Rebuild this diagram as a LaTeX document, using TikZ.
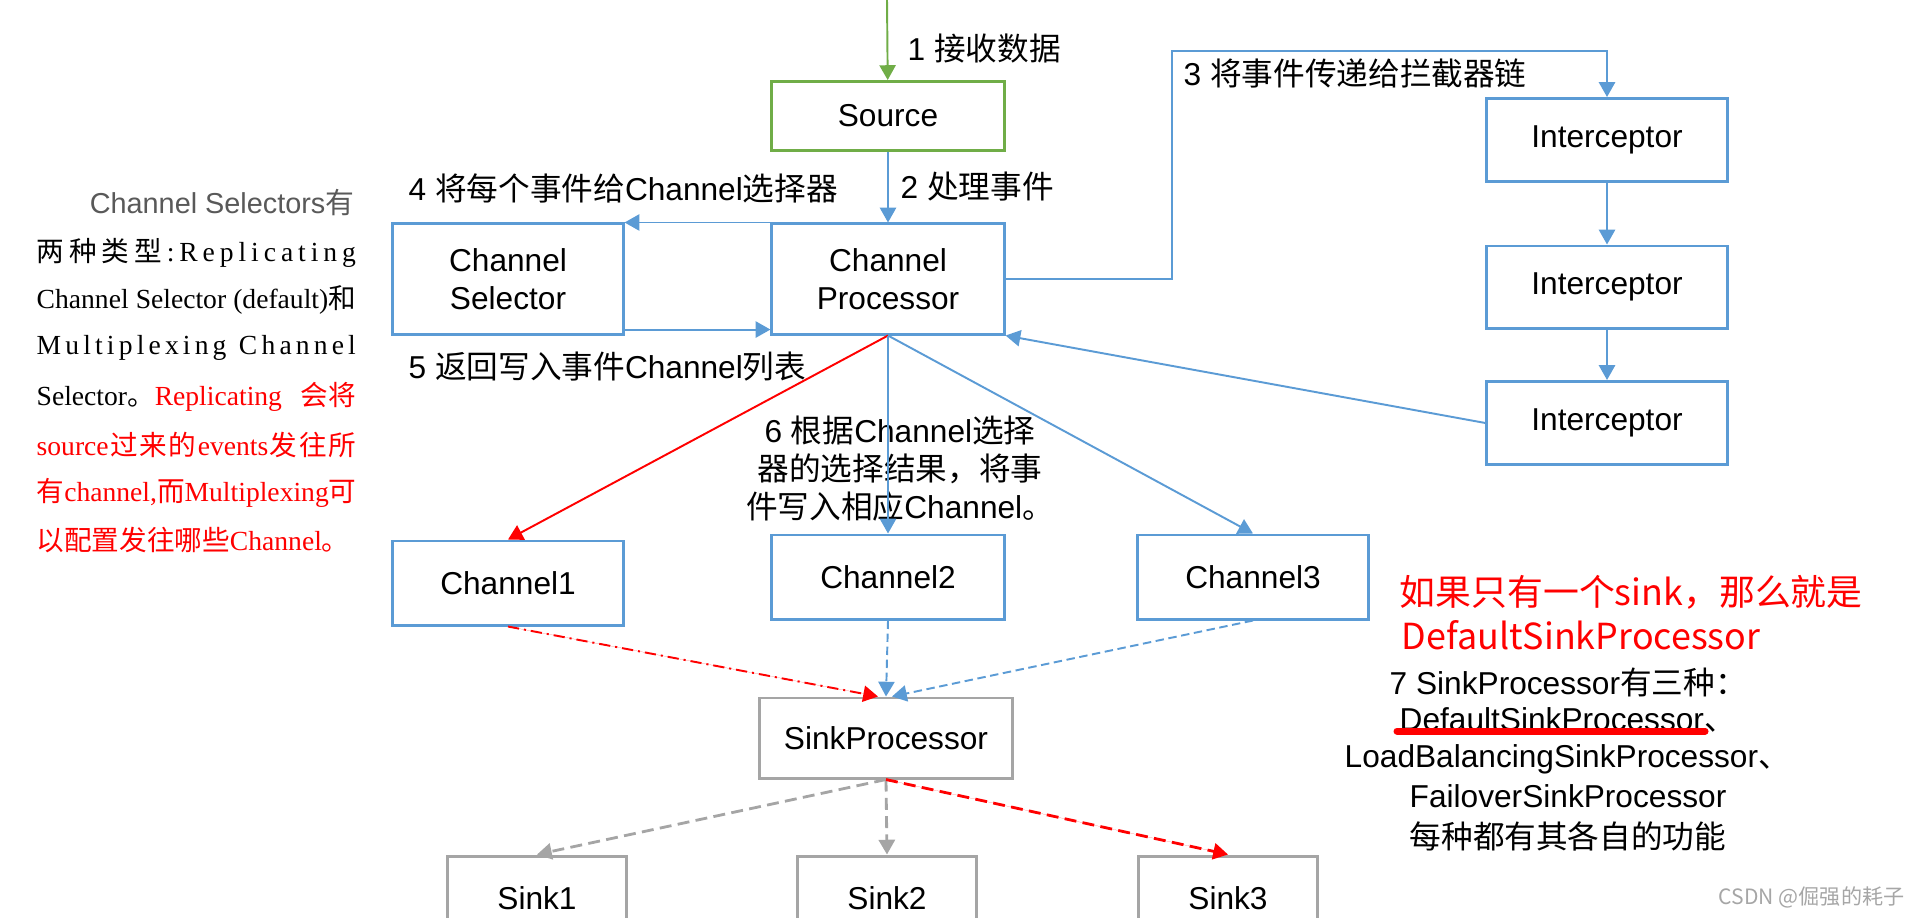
\documentclass[tikz,border=0pt]{standalone}
\usepackage{fontspec}
\setmainfont{Liberation Sans}
\newfontfamily\zh{Noto Sans CJK SC}
\newfontfamily\tms{Liberation Serif}
\usetikzlibrary{arrows.meta,calc}

\definecolor{boxblue}{RGB}{91,155,213}
\definecolor{boxgreen}{RGB}{112,173,71}
\definecolor{boxgray}{RGB}{165,165,165}
\definecolor{txtgray}{RGB}{89,89,89}

\newcommand\labfont{\fontsize{9}{10.8}\selectfont}
\newcommand\parfont{\fontsize{7.85}{9}\selectfont\tms}
\newlength\pw \setlength\pw{3.19cm}
% spread the letters of a word over a justified line
\newcommand\spreadchars[1]{\spreadB#1\relax}
\def\spreadB#1{#1\spreadA}
\def\spreadA#1{\ifx#1\relax\else\hfil#1\expandafter\spreadA\fi}

\tikzset{
	bluebox/.style={draw=boxblue, line width=0.85pt, minimum width=2.32cm, minimum height=0.84cm, align=center, font=\labfont},
	greenbox/.style={bluebox, draw=boxgreen},
	graybox/.style={bluebox, draw=boxgray},
	txt/.style={inner sep=0pt, anchor=west, font=\labfont},
	partxt/.style={inner sep=0pt, anchor=west, font=\parfont},
	flow/.style={-{Triangle[length=4.2pt,width=4.6pt]}, line width=0.55pt},
	blueline/.style={flow, draw=boxblue},
	greenline/.style={flow, draw=boxgreen},
	redline/.style={flow, draw=red, fill=red},
	bluedash/.style={blueline, dash pattern=on 2.4pt off 1.3pt},
	graydash/.style={flow, draw=boxgray, line width=0.8pt, dash pattern=on 3.4pt off 1.8pt},
	reddash/.style={redline, line width=0.8pt, dash pattern=on 3.4pt off 1.8pt},
	reddashdot/.style={redline, dash pattern=on 3.2pt off 1.4pt on 0.6pt off 1.4pt}
}

\begin{document}
\begin{tikzpicture}[x=0.01cm, y=-0.01cm]
	\useasboundingbox (0,0) rectangle (1919,917);
	
	%%%%% boxes %%%%%
	\node[greenbox, minimum height=0.69cm] (src) at (888,116) {Source};
	\node[bluebox, minimum width=2.30cm, minimum height=1.10cm] (sel) at (508,279) {Channel\\Selector};
	\node[bluebox, minimum height=1.10cm] (proc) at (888,279) {Channel\\Processor};
	
	\node[bluebox, minimum width=2.40cm, minimum height=0.83cm] (int1) at (1607,140) {Interceptor};
	\node[bluebox, minimum width=2.40cm, minimum height=0.82cm] (int2) at (1607,287) {Interceptor};
	\node[bluebox, minimum width=2.40cm, minimum height=0.83cm] (int3) at (1607,423) {Interceptor};
	
	\node[bluebox, minimum width=2.30cm] (ch1) at (508,583) {Channel1};
	\node[bluebox] (ch2) at (888,577) {Channel2};
	\node[bluebox, minimum width=2.30cm] (ch3) at (1253,577) {Channel3};
	
	\node[graybox, minimum width=2.52cm, minimum height=0.80cm] (sp) at (886,738) {SinkProcessor};
	\node[graybox, minimum width=1.79cm] (sink1) at (537,898) {Sink1};
	\node[graybox, minimum width=1.79cm] (sink2) at (887,898) {Sink2};
	\node[graybox, minimum width=1.79cm] (sink3) at (1228,898) {Sink3};
	
	%%%%% labels %%%%%
	\node[txt] (lab1) at (907,48) {1 {\zh 接收数据}};
	\node[txt] (lab2) at (900,187) {2 {\zh 处理事件}};
	\node[txt] (lab3) at (1183,73) {3 {\zh 将事件传递给拦截器链}};
	\node[txt] (lab4) at (408,188) {4 {\zh 将每个事件给}Channel{\zh 选择器}};
	\node[txt] (lab5) at (408,367) {5 {\zh 返回写入事件}Channel{\zh 列表}};
	\node[txt, anchor=center, align=center] (lab6) at (900,469)
		{6 {\zh 根据}Channel{\zh 选择}\\{\zh 器的选择结果，将事}\\{\zh 件写入相应}Channel{\zh 。}};
	
	%%%%% connectors %%%%%
	\coordinate (srcin) at (887,0);
	\coordinate (bend) at (1172,51);
	\draw[greenline] (srcin) -- (src);
	\draw[blueline] (src) -- (proc);
	\draw[blueline] (proc.north west) -- (sel.north east);
	\draw[blueline] ($(sel.south east)+(0,-6)$) -- ($(proc.south west)+(0,-6)$);
	\draw[blueline] (proc.east) -| (bend) -| (int1.north);
	\draw[blueline] (int1) -- (int2);
	\draw[blueline] (int2) -- (int3);
	\draw[blueline] (int3.west) -- (proc.south east);
	
	\draw[redline] (proc.south) -- (ch1.north);
	\draw[blueline] (proc.south) -- (ch2.north);
	\draw[blueline] (proc.south) -- (ch3.north);
	
	\draw[reddashdot] (ch1.south) -- ($(sp.north)+(-8,0)$);
	\draw[bluedash] (ch2.south) -- (sp.north);
	\draw[bluedash] (ch3.south) -- ($(sp.north)+(6,0)$);
	
	\draw[graydash] (sp.south) -- (sink1.north);
	\draw[graydash] (sp.south) -- (sink2.north);
	\draw[reddash] (sp.south) -- (sink3.north);
	
	%%%%% left note %%%%%
	\node[partxt, anchor=east, font=\fontsize{8.2}{9}\selectfont, text=txtgray] (p1) at (355,203) {Channel Selectors{\zh 有}};
	\node[partxt] (p2) at (36,253) {\makebox[\pw][s]{{\zh\spreadchars{两种类型}}\hfil\spreadchars{:Replicating}}};
	\node[partxt] (p3) at (36,300) {\makebox[\pw][s]{Channel Selector (default){\zh 和}}};
	\node[partxt] (p4) at (36,348) {\makebox[\pw][s]{\spreadchars{Multiplexing}\hfil\hfil\hfil\spreadchars{Channel}}};
	\node[partxt] (p5) at (36,397) {\makebox[\pw][s]{Selector{\zh 。}\textcolor{red}{Replicating {\zh 会将}}}};
	\node[partxt, text=red] (p6) at (36,445) {\makebox[\pw][s]{source\hfil{\zh 过\hfil 来\hfil 的}\hfil events\hfil{\zh 发\hfil 往\hfil 所}}};
	\node[partxt, text=red] (p7) at (36,493) {\makebox[\pw][s]{{\zh 有}channel,{\zh 而}Multiplexing{\zh 可}}};
	\node[partxt, text=red] (p8) at (36,540) {{\zh 以配置发往哪些}Channel{\zh 。}};
	
	%%%%% right note %%%%%
	\node[txt, font=\fontsize{10.2}{12}\selectfont\zh, text=red] (r1) at (1399,592) {如果只有一个sink，那么就是};
	\node[txt, font=\fontsize{10.2}{12}\selectfont\zh, text=red] (r2) at (1401,635) {DefaultSinkProcessor};
	\node[txt] (b1) at (1389,682) {7 SinkProcessor{\zh 有三种：}};
	\node[txt] (b2) at (1399,720) {DefaultSinkProcessor{\zh 、}};
	\node[txt] (b3) at (1344,759) {LoadBalancingSinkProcessor{\zh 、}};
	\node[txt] (b4) at (1409,796) {FailoverSinkProcessor};
	\node[txt] (b5) at (1409,836) {\zh 每种都有其各自的功能};
	\draw[red, line width=2pt, line cap=round] (1397,731) -- (1705,731);
	
	\node[txt, anchor=east, font=\fontsize{6}{7}\selectfont\zh, text=gray!70] (mark) at (1905,897) {CSDN @倔强的耗子};
\end{tikzpicture}
\end{document}
